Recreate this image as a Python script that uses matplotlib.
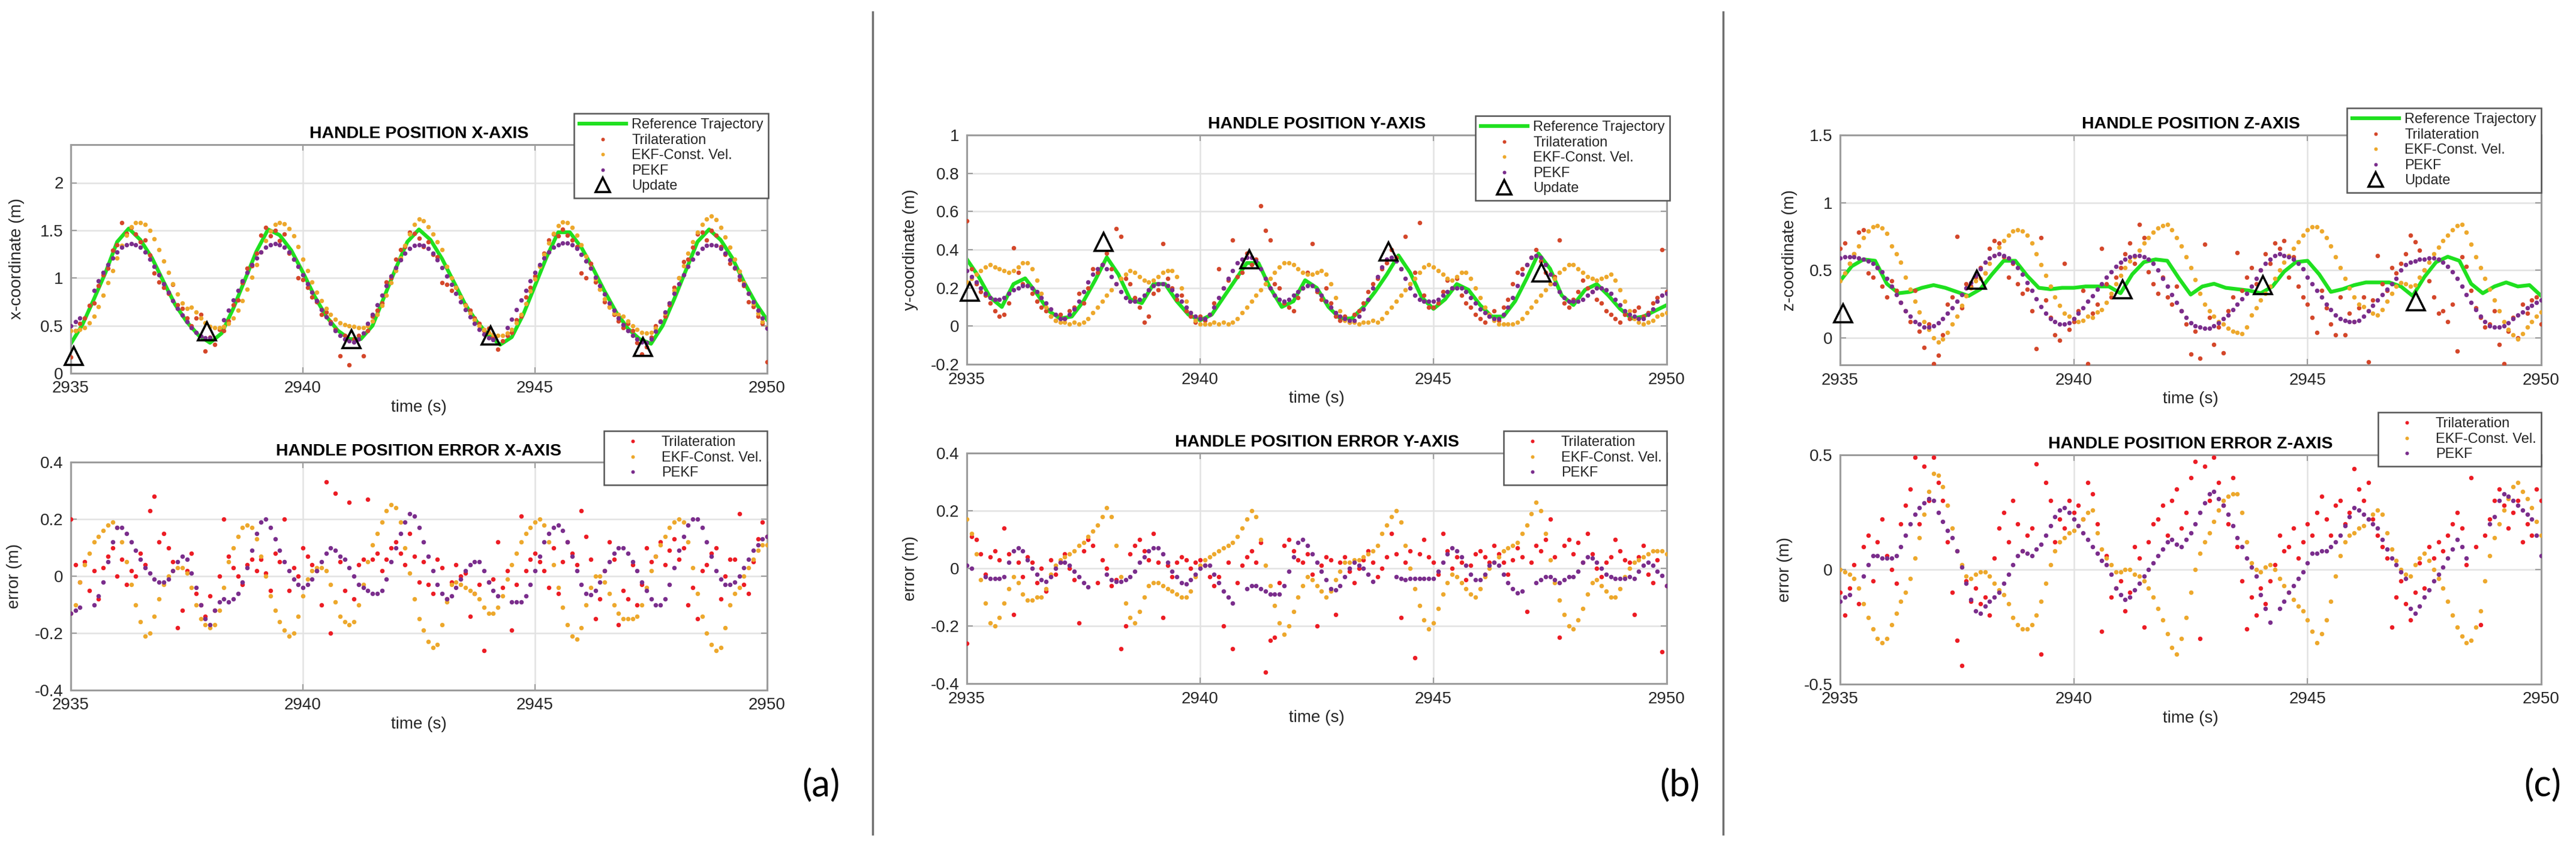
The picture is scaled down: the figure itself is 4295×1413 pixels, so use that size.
import numpy as np
import matplotlib.pyplot as plt
from matplotlib.lines import Line2D
from matplotlib.ticker import FuncFormatter

plt.rcParams['font.family'] = ['Liberation Sans', 'DejaVu Sans']
plt.rcParams['axes.unicode_minus'] = False

nan = np.nan

# =====================================================================
# Data
# =====================================================================

# sample times: reference every 0.25 s, estimators every 0.1 s
t_ref = np.linspace(2935, 2950, 61)
t_est = np.linspace(2935, 2950, 151)
t_update = [2935.07, 2937.93, 2941.05, 2944.04, 2947.32]

# ---------------- X axis ----------------
ref_x = [0.31, 0.51, 0.78, 1.06, 1.38, 1.52, 1.40, 1.21, 0.96, 0.72, 0.54, 0.40,
         0.32, 0.42, 0.68, 0.98, 1.28, 1.51, 1.45, 1.29, 1.06, 0.81, 0.60, 0.45,
         0.36, 0.36, 0.50, 0.80, 1.10, 1.38, 1.51, 1.40, 1.20, 0.96, 0.72, 0.54,
         0.40, 0.30, 0.38, 0.62, 0.92, 1.22, 1.48, 1.48, 1.32, 1.10, 0.86, 0.64,
         0.47, 0.36, 0.31, 0.50, 0.78, 1.08, 1.38, 1.51, 1.40, 1.21, 0.96, 0.74,
         0.56]
tri_x = [.17, .45, .52, .58, .71, .74, .92, 1.03, 1.10, 1.29,
         1.35, 1.58, 1.47, 1.53, 1.46, 1.38, 1.40, 1.24, 1.05, .96,
         .90, .84, .93, .72, .68, .58, .50, .58, .62, .23,
         .38, .30, .46, .45, .55, .72, .77, .95, 1.10, 1.13,
         1.26, 1.45, 1.53, 1.44, 1.50, 1.39, 1.46, 1.26, 1.20, 1.00,
         .98, .90, .80, .75, .62, .64, .54, .46, .18, .40,
         .09, .36, .40, .18, .45, .60, .66, .74, .96, 1.00,
         1.20, 1.30, 1.33, 1.48, 1.47, 1.42, 1.33, 1.38, 1.25, 1.22,
         .95, .93, .87, .90, .80, .72, .66, .58, .52, .45,
         .47, .38, .25, .34, .40, .43, .56, .60, .80, .90,
         1.02, 1.13, 1.26, 1.40, 1.46, 1.44, 1.51, 1.45, 1.40, 1.33,
         1.05, 1.00, 1.15, .96, .88, .75, .70, .62, .55, .48,
         .52, .45, .32, .20, .28, .38, .50, .55, .60, .72,
         .90, 1.00, 1.17, 1.20, 1.32, 1.46, 1.48, 1.40, 1.50, 1.45,
         1.33, 1.25, 1.15, 1.10, .98, .92, .75, .70, .60, .52,
         .12]
ekf_x = [.45, .45, .46, .48, .53, .60, .70, .82, .95, 1.08,
         1.21, 1.34, 1.45, 1.54, 1.58, 1.58, 1.56, 1.50, 1.41, 1.30,
         1.18, 1.06, .94, .83, .74, .68, .69, .64, .58, .53,
         .49, .48, .48, .49, .52, .58, .66, .76, .88, 1.01,
         1.14, 1.27, 1.39, 1.49, 1.56, 1.58, 1.57, 1.52, 1.44, 1.33,
         1.20, 1.08, .96, .85, .76, .68, .62, .57, .53, .51,
         .50, .49, .48, .48, .50, .55, .62, .71, .82, .95,
         1.08, 1.21, 1.34, 1.46, 1.56, 1.62, 1.60, 1.54, 1.46, 1.38,
         1.30, 1.12, 1.00, .90, .80, .71, .63, .56, .50, .46,
         .43, .41, .40, .40, .42, .46, .53, .62, .73, .86,
         .99, 1.12, 1.25, 1.37, 1.47, 1.55, 1.59, 1.58, 1.53, 1.45,
         1.35, 1.23, 1.11, .99, .88, .78, .69, .63, .62, .60,
         .55, .50, .46, .43, .42, .43, .47, .54, .63, .74,
         .87, 1.00, 1.13, 1.26, 1.38, 1.48, 1.56, 1.62, 1.65, 1.61,
         1.53, 1.43, 1.32, 1.20, 1.07, .95, .84, .73, .63, .54,
         .48]
pekf_x = [.50, .54, .58, nan, nan, .87, .97, 1.06, 1.14, 1.21,
          1.27, 1.32, 1.35, 1.36, 1.35, 1.32, 1.27, 1.20, 1.12, 1.03,
          .94, .85, .76, .68, .61, .54, .48, .43, .39, .37,
          .37, nan, nan, .56, .66, .77, .87, .97, 1.06, 1.14,
          1.21, 1.27, 1.32, 1.35, 1.36, 1.35, 1.32, 1.27, 1.20, 1.12,
          1.03, .94, .85, .76, .67, .59, .52, .45, .40, .36,
          .34, .33, .36, .42, .52, .62, .72, .82, .92, 1.02,
          1.11, 1.19, 1.26, 1.31, 1.34, 1.35, 1.34, 1.31, 1.26, 1.19,
          1.11, 1.02, .93, .84, .75, .67, .59, .52, .46, .41,
          .37, .35, nan, nan, .48, .57, .67, .77, .87, .97,
          1.06, 1.14, 1.21, 1.27, 1.32, 1.35, 1.37, 1.37, 1.35, 1.31,
          1.25, 1.18, 1.10, 1.01, .92, .83, .74, .66, .58, .51,
          .45, .40, .36, .33, .32, .36, .44, .54, .64, .74,
          .84, .94, 1.03, 1.12, 1.20, 1.26, 1.31, 1.34, 1.35, 1.34,
          1.31, 1.26, 1.19, 1.11, 1.02, .93, .84, .75, .66, .58,
          .47]
update_x = [0.18, 0.44, 0.36, 0.40, 0.28]

tri_x_err = [.20, .04, -.02, .05, -.05, .02, -.08, .03, .07, .10,
             .00, .06, -.03, .02, .00, .08, .04, .23, .28, .12,
             .15, .10, .05, -.18, -.12, .02, .08, -.06, -.10, -.14,
             -.07, -.12, .00, .20, .07, .03, .00, -.03, .04, .06,
             .02, .06, .01, -.05, .08, .05, .20, -.05, .03, .00,
             .10, .07, .04, .02, -.10, .33, -.20, .29, .05, -.05,
             .26, -.08, .04, .06, .27, .06, .08, .02, .06, .10,
             .12, .08, .04, .15, .07, -.02, .05, -.03, -.06, .06,
             .03, -.08, -.02, .04, .00, .01, -.14, -.06, -.03, -.26,
             -.02, -.01, .12, -.04, .02, -.19, -.03, .21, .02, .06,
             .08, .05, .02, -.04, .10, -.06, .05, .12, .08, .04,
             .23, .14, .06, -.15, -.08, .02, .12, .06, -.17, -.05,
             -.08, .04, -.10, -.03, .10, .05, .07, .12, .04, .09,
             .13, .06, .10, -.10, -.04, -.15, .02, .04, .08, .10,
             -.08, .00, .06, .06, .22, -.03, -.06, .05, .13, .19,
             .14]
ekf_x_err = [-.13, -.10, -.02, .04, .08, .12, .14, .16, .18, .19,
             .17, .12, .05, -.03, -.10, -.16, -.21, -.20, -.14, -.08,
             -.03, .00, .02, .03, .03, .01, -.04, -.10, -.15, -.17,
             -.18, -.17, -.12, -.04, .05, .10, .14, .17, .18, .17,
             .13, .07, .00, -.07, -.12, -.16, -.19, -.21, -.20, -.14,
             -.07, -.01, .02, .03, .03, .02, -.03, -.09, -.14, -.16,
             -.17, -.16, -.10, -.03, .05, .11, .15, .19, .23, .25,
             .24, .19, .10, .01, -.08, -.15, -.19, -.23, -.25, -.24,
             -.17, -.09, -.03, -.02, -.03, -.04, -.05, -.06, -.08, -.11,
             -.13, -.13, -.11, -.07, -.01, .04, .08, .12, .15, .17,
             .19, .20, .18, .12, .04, -.04, -.11, -.17, -.21, -.22,
             -.18, -.10, -.04, .00, .00, -.02, -.06, -.10, -.13, -.15,
             -.15, -.15, -.14, -.10, -.04, .02, .07, .11, .14, .17,
             .19, .20, .19, .12, .03, -.06, -.14, -.20, -.24, -.26,
             -.25, -.18, -.10, -.06, -.04, .00, .03, .06, .09, .11,
             .11]
pekf_x_err = [-.13, -.12, -.11, nan, nan, -.10, -.07, -.02, .05, .12,
              .17, .17, .15, .12, .09, .06, .03, .01, -.01, -.02,
              -.02, -.01, .02, .05, .07, .06, .01, -.04, -.10, -.15,
              -.17, -.12, -.09, -.08, -.09, -.08, -.06, -.02, .03, .09,
              .15, .19, .20, .17, .13, .09, .05, .02, -.01, -.03,
              -.04, -.03, -.01, .02, .05, .08, .10, .09, .07, .06,
              .03, .00, -.03, -.04, -.05, -.06, -.06, -.05, -.01, .05,
              .10, .15, .19, .22, .21, .17, .12, .07, .02, -.03,
              -.06, -.08, -.07, -.04, -.01, .02, .04, .05, .05, .02,
              -.02, -.05, -.07, nan, nan, -.09, -.09, -.09, -.07, -.03,
              .02, .07, .12, .15, .17, .18, .16, .12, .07, .02,
              -.03, -.06, -.065, -.05, -.02, .02, .05, .08, .10, .10,
              .08, .05, .02, -.02, -.05, -.08, -.10, -.10, -.08, -.03,
              .03, .09, .14, .18, .20, .20, .17, .12, .07, .02,
              -.01, -.03, -.03, -.02, .00, .03, .06, .09, .11, .13,
              .14]

# ---------------- Y axis ----------------
ref_y = [0.35, 0.26, 0.15, 0.10, 0.22, 0.25, 0.17, 0.08, 0.04, 0.05, 0.13, 0.24,
         0.36, 0.27, 0.14, 0.12, 0.22, 0.22, 0.13, 0.06, 0.03, 0.06, 0.15, 0.24,
         0.33, 0.33, 0.20, 0.10, 0.13, 0.24, 0.20, 0.10, 0.04, 0.04, 0.10, 0.18,
         0.27, 0.37, 0.28, 0.15, 0.09, 0.14, 0.22, 0.19, 0.11, 0.05, 0.05, 0.13,
         0.25, 0.38, 0.30, 0.16, 0.11, 0.19, 0.22, 0.16, 0.09, 0.04, 0.05, 0.08,
         0.11]
tri_y = [.55, .30, .22, .18, .16, .12, .08, .05, .06, .12,
         .41, .28, .22, .21, .17, .13, .10, .08, .05, .03,
         .06, .04, .08, .10, .17, .12, .20, .30, .28, .32,
         .38, .30, .51, .47, .25, .22, .15, .10, .02, .05,
         .17, .19, .43, .25, .20, .14, .16, .08, .05, .02,
         .05, .03, .06, .12, .30, .20, .24, .45, .26, .28,
         .38, .32, .35, .63, .50, .45, .22, .20, .12, .10,
         .08, .15, .20, .28, .43, .18, .14, .20, .12, .05,
         .03, .05, .02, .06, .08, .12, .18, .22, .25, .30,
         .33, .40, .36, .30, .47, .22, .28, .54, .16, .10,
         .10, .12, .18, .24, .20, .25, .16, .12, .10, .06,
         .04, .02, .05, .08, .03, .10, .14, .22, .28, .30,
         .32, .36, .40, .34, .28, .22, .26, .45, .12, .10,
         .14, .18, .24, .20, .18, .14, .12, .08, .06, .04,
         .02, .06, .04, .08, .10, .05, .07, .12, .15, .40,
         .18]
ekf_y = [.23, .25, .27, .29, .31, .32, .31, .30, .29, .28,
         .29, .31, .33, .33, .30, .24, .17, .10, .05, .03,
         .02, .02, .01, .02, .01, .02, .04, .07, .10, .13,
         .16, .19, .22, .25, .27, .29, .28, .26, .24, .23,
         .24, .26, .28, .29, .29, .26, .20, .13, .07, .03,
         .01, .01, .01, .02, .01, .02, .01, .02, .04, .07,
         .10, .13, .16, .19, .22, .25, .28, .31, .33, .33,
         .32, .30, .28, .27, .27, .28, .29, .27, .22, .15,
         .08, .03, .02, .02, .01, .02, .02, .03, .02, .04,
         .07, .10, .13, .16, .19, .22, .25, .28, .31, .32,
         .31, .29, .27, .25, .24, .26, .28, .28, .25, .20,
         .15, .10, .06, .03, .01, .01, .01, .01, .02, .04,
         .07, .10, .13, .16, .19, .22, .25, .28, .30, .32,
         .32, .30, .28, .26, .25, .24, .25, .26, .27, .24,
         .19, .13, .08, .04, .02, .01, .02, .03, .05, .06,
         .07]
pekf_y = [.29, .26, .23, .20, .17, .15, .14, .14, .15, .17,
          .19, .20, .21, .21, .20, .18, .15, .12, .09, .06,
          .04, .04, .06, .09, .13, .18, .23, .27, .30, .32,
          .30, .26, .22, .18, .15, .13, .13, .14, .16, .19,
          .21, .22, .22, .21, .19, .16, .13, .10, .07, .05,
          .04, .04, .06, .10, .15, .20, .25, .29, .33, .35,
          .36, .36, .34, .30, .25, .20, .16, .14, .13, .14,
          .16, .18, .20, .21, .21, .19, .16, .13, .10, .07,
          .05, .04, .03, .03, .05, .09, .14, .20, .26, .31,
          .35, .36, .34, .30, .25, .20, .16, .14, .13, .13,
          .13, .14, .16, .18, .20, .20, .20, .18, .15, .12,
          .09, .07, .05, .04, .04, .06, .10, .15, .21, .27,
          .32, .36, .37, .36, .32, .27, .22, .18, .15, .13,
          .13, .13, .14, .16, .18, .20, .20, .19, .17, .14,
          .11, .08, .06, .05, .04, .04, .06, .09, .13, .16,
          .17]
update_y = [0.18, 0.44, 0.35, 0.39, 0.28]

tri_y_err = [-.26, .11, .10, .05, -.02, .04, .06, .03, .14, .05,
             -.16, .02, -.03, .04, .02, -.05, .00, -.08, .03, -.02,
             .02, .05, .00, -.04, -.19, .06, .10, .08, -.05, .03,
             .00, -.06, -.04, -.28, -.20, .05, .08, .10, .06, .03,
             .12, .02, -.17, .01, -.03, .02, .04, .03, .00, .02,
             .03, .01, -.03, -.06, -.03, -.20, .02, -.28, -.05, .01,
             .04, .06, .02, .09, -.36, -.25, -.24, -.05, .08, .10,
             .06, .03, .02, .05, -.02, -.20, .01, .04, .03, -.16,
             .02, .04, -.01, -.05, .00, .03, .06, .02, -.03, .00,
             .04, .12, .05, -.17, .02, .06, -.31, .05, .10, .04,
             .02, -.02, .12, .06, .00, .04, .02, -.04, .01, .05,
             .06, .04, .02, .08, .05, .02, -.02, .03, .07, .04,
             -.15, .02, .08, .06, .10, .17, .04, -.24, .08, .10,
             .05, .09, .02, .12, .05, .00, -.03, .02, .04, .10,
             .06, .03, .02, -.16, .04, .08, -.02, -.05, .03, -.29,
             -.06]
ekf_y_err = [.17, .12, .05, -.04, -.12, -.19, -.20, -.17, -.12, -.07,
             -.03, -.05, -.09, -.11, -.11, -.10, -.10, -.07, -.02, .01,
             .03, .04, .05, .06, .08, .09, .11, .13, .15, .18,
             .21, .18, .08, -.03, -.12, -.17, -.19, -.15, -.10, -.06,
             -.05, -.05, -.06, -.07, -.08, -.09, -.10, -.10, -.08, -.03,
             .01, .03, .04, .05, .06, .07, .08, .09, .11, .14,
             .17, .20, .18, .10, .01, -.06, -.13, -.19, -.23, -.20,
             -.15, -.10, -.06, -.03, -.04, -.06, -.08, -.10, -.08, -.04,
             -.01, .02, .02, .03, .03, .04, .05, .06, .08, .12,
             .15, .18, .20, .16, .08, .00, -.07, -.13, -.18, -.21,
             -.19, -.14, -.09, -.05, -.02, -.03, -.05, -.07, -.09, -.10,
             -.07, -.03, .00, .02, .04, .06, .07, .08, .09, .12,
             .15, .19, .23, .20, .12, .03, -.05, -.11, -.16, -.20,
             -.21, -.18, -.14, -.09, -.05, -.04, -.06, -.08, -.10, -.10,
             -.07, -.03, .00, .02, .03, .04, .05, .06, .06, .06,
             .05]
pekf_y_err = [.01, .00, nan, nan, -.03, -.035, -.035, -.035, -.03, .02,
              .06, .07, .06, .03, .00, -.02, -.04, -.045, -.03, .00,
              .02, .02, .01, -.01, -.03, -.05, -.065, nan, nan, nan,
              -.02, -.04, -.045, -.045, -.04, -.03, -.01, .02, .04, .06,
              .07, .07, .05, .02, -.01, -.03, -.05, -.055, -.04, -.02,
              .00, .01, .01, -.02, -.05, -.08, -.10, -.12, nan, nan,
              -.07, -.06, -.06, -.07, -.08, -.09, -.09, -.09, -.06, -.01,
              .04, .09, .10, .08, .05, .02, -.01, -.04, -.07, -.075,
              -.06, -.03, .00, .02, .01, .00, -.02, -.045, nan, nan,
              nan, nan, -.03, -.035, -.04, -.035, -.035, -.035, -.035, -.035,
              -.035, -.01, .02, .05, .07, .06, .04, .01, -.02, -.04,
              -.04, -.02, .01, .02, .01, -.02, -.05, -.07, -.085, -.08,
              nan, nan, -.05, -.04, -.03, -.03, -.04, -.05, -.04, -.03,
              -.03, -.01, .02, .04, .035, .02, .00, -.02, -.03, -.035,
              -.035, -.035, -.03, -.035, -.01, .01, .02, .01, -.01, -.025,
              -.06]

# ---------------- Z axis ----------------
ref_z = [0.42, 0.53, 0.58, 0.57, 0.40, 0.33, 0.34, 0.37, 0.39, 0.37, 0.34, 0.31,
         0.36, 0.47, 0.57, 0.57, 0.46, 0.37, 0.36, 0.37, 0.37, 0.38, 0.38, 0.38,
         0.33, 0.47, 0.56, 0.58, 0.57, 0.44, 0.32, 0.38, 0.40, 0.37, 0.36, 0.35,
         0.33, 0.38, 0.49, 0.56, 0.57, 0.47, 0.34, 0.36, 0.39, 0.41, 0.41, 0.41,
         0.38, 0.31, 0.45, 0.56, 0.60, 0.57, 0.40, 0.33, 0.38, 0.41, 0.38, 0.39,
         0.31]
tri_z = [.66, .70, .55, .62, .78, .80, .48, .45, .52, .38,
         .30, .42, .35, .26, .20, .12, .35, .05, -.07, .10,
         -.19, -.13, .02, .25, .30, .75, .22, .40, .38, .45,
         .52, .48, .66, .72, .70, .60, .45, .55, .40, .33,
         .36, .20, -.08, .74, .28, .15, .02, -.02, .55, .06,
         .12, .20, .35, -.19, .18, .25, .66, .40, .30, .45,
         .52, .62, .70, .55, .84, .74, .49, .40, .33, .45,
         .30, .25, .38, .20, .10, -.12, .05, -.15, .69, .15,
         -.05, .08, -.11, .20, .30, .63, .35, .45, .52, .40,
         .50, .62, .55, .70, .66, .72, .45, .60, .38, .30,
         .25, .15, .04, .35, .22, .10, .02, .30, .02, .18,
         .12, .22, .30, -.18, .28, .61, .40, .35, .52, .48,
         .55, .62, .76, .71, .65, .50, .42, .30, .18, .20,
         .12, .25, -.10, .60, .53, .35, .22, .15, .08, .10,
         .20, -.05, -.19, .05, .15, .00, .25, .18, .28, .30,
         .10]
ekf_z = [.42, .48, .55, .62, .68, .74, .79, .82, .83, .81,
         .77, .68, .62, .56, .45, .36, .27, .19, .12, .06,
         .00, -.03, -.01, .04, .10, .16, .24, .31, .37, .42,
         .44, .48, .55, .61, .67, .72, .76, .79, .80, .79,
         .76, .70, .62, .54, .46, .38, .30, .24, .18, .16,
         .14, .12, .13, .16, .15, .19, .21, .26, .33, .40,
         .46, .52, .57, .60, .65, .70, .74, .78, .81, .83,
         .84, .80, .74, .68, .60, .52, .43, .33, .25, .20,
         .16, .12, .10, .07, .05, .04, .03, .08, .17, .22,
         .28, .33, .38, .44, .50, .56, .61, .66, .71, .76,
         .80, .82, .82, .79, .74, .68, .60, .52, .44, .37,
         .30, .25, .23, .20, .18, .17, .21, .27, .33, .38,
         .41, .40, .38, .39, .45, .50, .56, .62, .67, .72,
         .76, .80, .83, .84, .78, .69, .60, .52, .44, .36,
         .28, .20, .12, .06, .02, -.01, .03, .08, .12, .16,
         .19]
pekf_z = [.59, .60, .60, .60, .59, .58, .57, .55, .52, .49,
          .44, .38, .32, .26, .20, .16, .12, .10, .08, .08,
          .09, .11, .14, .18, .22, .27, .32, .37, .41, .46,
          .51, .56, .59, .61, .62, .61, .59, .56, .52, .47,
          .41, .35, .29, .23, .18, .14, .12, .10, .10, .11,
          .14, .18, .22, .27, .31, .36, .40, .45, .49, .53,
          .56, .58, .60, .61, .61, .60, .58, .55, .50, .44,
          .38, .32, .26, .20, .15, .11, .09, .08, .07, .07,
          .09, .11, .14, .17, .21, .25, .29, .33, .38, .44,
          .50, .55, .58, .61, .62, .61, .60, .58, .55, .51,
          .45, .40, .35, .30, .25, .21, .17, .14, .13, .12,
          .12, .13, .16, .20, .24, .28, .32, .36, .40, .44,
          .50, .54, .56, .57, .58, .58, .59, .59, .58, .56,
          .53, .49, .44, .38, .32, .26, .21, .16, .12, .09,
          .08, .08, .09, .11, .14, .17, .19, .22, .24, .26,
          .28]
update_z = [0.18, 0.43, 0.36, 0.39, 0.27]

tri_z_err = [-.10, -.20, -.08, .02, -.15, .10, .15, -.05, .12, .22,
             .06, .00, -.06, .20, .28, .35, .49, .20, .45, .30,
             .49, .38, .30, .12, -.10, -.31, -.42, -.05, -.14, -.08,
             -.15, -.12, -.20, .05, .18, .25, .12, .30, .20, .08,
             .15, .18, .46, -.37, .38, .30, .12, .22, .18, .30,
             .25, .28, .22, .38, .33, .20, -.27, .06, -.12, -.08,
             -.05, -.18, -.10, .10, .05, -.25, .12, .20, .22, .28,
             .15, .30, .35, .18, .25, .40, .47, -.30, .45, .30,
             .49, .38, .28, .20, .40, .10, -.05, -.26, -.12, -.20,
             -.08, -.15, -.05, .02, .15, .08, .10, .18, .05, .12,
             .20, .15, .25, .32, .22, .15, .28, .30, .20, .25,
             .44, .35, .30, .38, .22, .15, .10, .05, -.25, -.12,
             -.05, -.15, -.22, -.10, .03, -.08, .10, .05, .12, .08,
             .15, .20, .25, .18, .02, .40, .10, -.24, .15, .22,
             .30, .35, .28, .18, .25, .30, .12, .20, .15, .35,
             .30]
ekf_z_err = [.00, -.01, -.02, -.04, -.08, -.15, -.21, -.26, -.30, -.32,
             -.30, -.24, -.19, -.14, -.10, -.04, .05, .14, .24, .34,
             .42, .41, .36, .28, .18, .08, .02, -.03, -.04, -.02,
             -.01, -.01, -.03, -.06, -.09, -.11, -.15, -.21, -.24, -.26,
             -.26, -.24, -.20, -.14, -.06, .02, .08, .12, .14, .16,
             .17, .19, .22, .25, .26, .16, .09, .05, .02, -.01,
             -.01, .00, .00, -.02, -.03, -.05, -.08, -.12, -.17, -.22,
             -.28, -.34, -.37, -.30, -.21, -.10, .00, .07, .12, .16,
             .21, .26, .30, .32, .33, .33, .25, .12, .03, .00,
             -.01, .01, .02, .00, -.04, -.07, -.10, -.13, -.16, -.18,
             -.22, -.27, -.32, -.28, -.22, -.14, -.03, .06, .12, .15,
             .16, .18, .19, .22, .24, .26, .24, .16, .09, .04,
             .00, -.02, -.03, .02, .05, .07, .04, .00, -.04, -.08,
             -.14, -.20, -.25, -.29, -.32, -.31, -.25, -.18, -.05, .06,
             .14, .20, .26, .31, .36, .38, .34, .31, .27, .21,
             .15]
pekf_z_err = [-.14, -.12, -.11, nan, nan, -.03, .02, .06, .06, .05,
              .05, .05, .06, .10, .15, .20, .24, .27, .29, .31,
              .30, .25, .21, .17, .14, .08, .01, -.06, -.13, -.18,
              -.19, -.16, -.14, -.12, -.10, -.06, -.02, .02, .06, .08,
              .07, .06, .09, .11, .15, .19, .23, .26, .27, .25,
              .22, .19, .16, .13, .10, .07, .04, .02, -.02, -.08,
              -.11, -.13, -.12, -.09, -.06, -.03, .00, .03, .06, .09,
              .12, .13, .11, .10, .13, .16, .20, .25, .29, .33,
              .34, .31, .28, .24, .19, .14, .10, .05, .01, -.03,
              -.11, -.17, -.23, nan, -.17, -.14, -.10, -.07, -.04, -.01,
              .03, .07, .07, .08, .08, .10, .12, .15, .19, .23,
              .27, .26, .24, .22, .20, .18, .13, .09, .05, .02,
              -.01, -.04, -.17, -.19, -.16, -.12, -.09, -.05, -.02, .01,
              .05, .09, .13, .10, .05, nan, nan, nan, nan, .20,
              .23, .30, .33, .32, .30, .28, .26, .24, .22, .15,
              .06]

# =====================================================================
# Styling
# =====================================================================

GREEN = '#1fe01f'
TRI_POS = '#d4472a'
TRI_ERR = '#ec1c24'
EKF = '#eda82c'
PEKF = '#7a2d8c'
SPINE = '#9c9c9c'
TXT = '#262626'
DOT = 5.4

W, H = 4295, 1413
fig = plt.figure(figsize=(W / 100, H / 100), dpi=100)


def px_rect(left, top, right, bottom):
    return [left / W, 1 - bottom / H, (right - left) / W, (bottom - top) / H]


def style_axes(ax, title, ylabel, ylim, yticks, ylab_x):
    ax.set_xlim(2935, 2950)
    ax.set_xticks([2935, 2940, 2945, 2950])
    ax.xaxis.set_major_formatter(FuncFormatter(lambda v, p: f'{v:.0f}'))
    ax.set_ylim(*ylim)
    ax.set_yticks(yticks)
    ax.yaxis.set_major_formatter(FuncFormatter(lambda v, p: f'{v:g}'))
    ax.grid(True, color='#e2e2e2', lw=1.8)
    ax.set_axisbelow(True)
    for s in ax.spines.values():
        s.set_color(SPINE)
        s.set_linewidth(2.2)
    ax.tick_params(direction='in', top=True, right=True, length=7, width=1.5,
                   color=SPINE, labelsize=20, labelcolor=TXT, pad=9)
    ax.set_title(title, fontsize=20.5, fontweight='bold', pad=8)
    ax.set_xlabel('time (s)', fontsize=20, color=TXT, labelpad=4)
    ax.set_ylabel(ylabel, fontsize=20, color=TXT)
    ax.yaxis.set_label_coords(ylab_x, 0.5)


def add_legend(ax, anchor_px):
    leg = ax.legend(loc='upper right', bbox_to_anchor=(anchor_px[0] / W, 1 - anchor_px[1] / H),
                    bbox_transform=fig.transFigure, fontsize=17, frameon=True, fancybox=False,
                    edgecolor='#555555', framealpha=1, borderpad=0.35, labelspacing=0.15,
                    handlelength=3.3, handletextpad=0.4, borderaxespad=0, numpoints=1,
                    markerscale=0.8)
    leg.get_frame().set_linewidth(1.8)
    for txt in leg.get_texts():
        txt.set_color(TXT)


def draw_position(rect, ref, tri, ekf, pekf, upd, title, ylabel, ylim, yticks, ylab_x, leg_px):
    ax = fig.add_axes(rect)
    ax.plot(t_ref, ref, color=GREEN, lw=4.5, label='Reference Trajectory', zorder=2)
    ax.plot(t_est, tri, ls='none', marker='o', ms=DOT, mec='none', color=TRI_POS,
            label='Trilateration', zorder=3)
    ax.plot(t_est, ekf, ls='none', marker='o', ms=DOT, mec='none', color=EKF,
            label='EKF-Const. Vel.', zorder=3)
    ax.plot(t_est, pekf, ls='none', marker='o', ms=DOT, mec='none', color=PEKF,
            label='PEKF', zorder=4)
    ax.plot(t_update, upd, ls='none', marker='^', ms=21, mfc='none', mec='black', mew=2.6,
            label='Update', zorder=5, clip_on=False)
    style_axes(ax, title, ylabel, ylim, yticks, ylab_x)
    add_legend(ax, leg_px)


def draw_error(rect, tri, ekf, pekf, title, ylim, yticks, ylab_x, leg_px):
    ax = fig.add_axes(rect)
    ax.plot(t_est, tri, ls='none', marker='o', ms=DOT, mec='none', color=TRI_ERR,
            label='Trilateration', zorder=3)
    ax.plot(t_est, ekf, ls='none', marker='o', ms=DOT, mec='none', color=EKF,
            label='EKF-Const. Vel.', zorder=3)
    ax.plot(t_est, pekf, ls='none', marker='o', ms=DOT, mec='none', color=PEKF,
            label='PEKF', zorder=4)
    style_axes(ax, title, 'error (m)', ylim, yticks, ylab_x)
    add_legend(ax, leg_px)


# (a) X axis
draw_position(px_rect(118, 241, 1279, 622), ref_x, tri_x, ekf_x, pekf_x, update_x,
              'HANDLE POSITION X-AXIS', 'x-coordinate (m)', (0, 2.4), [0, 0.5, 1, 1.5, 2],
              -0.066, (1281, 189))
draw_error(px_rect(118, 770, 1279, 1150), tri_x_err, ekf_x_err, pekf_x_err,
           'HANDLE POSITION ERROR X-AXIS', (-0.4, 0.4), [-0.4, -0.2, 0, 0.2, 0.4],
           -0.07, (1279, 718))

# (b) Y axis
draw_position(px_rect(1612, 225, 2779, 607), ref_y, tri_y, ekf_y, pekf_y, update_y,
              'HANDLE POSITION Y-AXIS', 'y-coordinate (m)', (-0.2, 1.0),
              [-0.2, 0, 0.2, 0.4, 0.6, 0.8, 1], -0.069, (2784, 193))
draw_error(px_rect(1612, 755, 2779, 1139), tri_y_err, ekf_y_err, pekf_y_err,
           'HANDLE POSITION ERROR Y-AXIS', (-0.4, 0.4), [-0.4, -0.2, 0, 0.2, 0.4],
           -0.069, (2779, 718))

# (c) Z axis
draw_position(px_rect(3068, 225, 4237, 608), ref_z, tri_z, ekf_z, pekf_z, update_z,
              'HANDLE POSITION Z-AXIS', 'z-coordinate (m)', (-0.2, 1.5), [0, 0.5, 1, 1.5],
              -0.061, (4237, 180))
draw_error(px_rect(3068, 758, 4237, 1140), tri_z_err, ekf_z_err, pekf_z_err,
           'HANDLE POSITION ERROR Z-AXIS', (-0.5, 0.5), [-0.5, 0, 0.5],
           -0.068, (4237, 687))

# separators between the three panels
for xs in (1455, 2873):
    fig.add_artist(Line2D([xs / W, xs / W], [1 - 20 / H, 1 - 1390 / H],
                          transform=fig.transFigure, color='#6e6e6e', lw=2.5))

# panel letters
for xs, letter in ((1369, '(a)'), (2801, '(b)'), (4239, '(c)')):
    fig.text(xs / W, 1 - 1309 / H, letter, fontsize=44, family=['Lato', 'DejaVu Sans'],
             ha='center', va='center', color='black')

fig.savefig('out.png', dpi=100, facecolor='white')
